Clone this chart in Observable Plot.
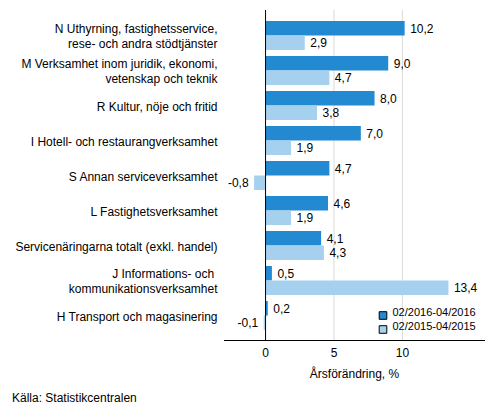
<!DOCTYPE html>
<html>
<head>
<meta charset="utf-8">
<script src="https://cdn.jsdelivr.net/npm/d3@7"></script>
<script src="https://cdn.jsdelivr.net/npm/@observablehq/plot@0.6"></script>
<style>
  body { margin: 0; background: white; font-family: "Liberation Sans", Arial, sans-serif; }
  #source { font-size: 12px; color: #000; margin: 3px 0 0 12px; }
</style>
</head>
<body>
<div id="chart"></div>
<div id="source">Källa: Statistikcentralen</div>
<script>
const categories = [
  'N Uthyrning, fastighetsservice,\nrese- och andra stödtjänster',
  'M Verksamhet inom juridik, ekonomi,\nvetenskap och teknik',
  'R Kultur, nöje och fritid',
  'I Hotell- och restaurangverksamhet',
  'S Annan serviceverksamhet',
  'L Fastighetsverksamhet',
  'Servicenäringarna totalt (exkl. handel)',
  'J Informations- och \nkommunikationsverksamhet',
  'H Transport och magasinering'
]
const series = ['02/2016-04/2016', '02/2015-04/2015']
const values2016 = [10.2, 9.0, 8.0, 7.0, 4.7, 4.6, 4.1, 0.5, 0.2]
const values2015 = [2.9, 4.7, 3.8, 1.9, -0.8, 1.9, 4.3, 13.4, -0.1]
const xTicks = [0, 5, 10]
const colors = ['#238ad2', '#a5d1ef']

const fmt = v => d3.format('.1f')(v).replace('.', ',').replace('−', '-')
const rows2016 = categories.map((c, i) => ({cat: c, serie: series[0], value: values2016[i]}))
const rows2015 = categories.map((c, i) => ({cat: c, serie: series[1], value: values2015[i]}))

// värdeetiketter, positiva till höger och negativa till vänster
const labels = (rows, dy) => [
  Plot.text(rows.filter(d => d.value >= 0), {y: 'cat', x: 'value', text: d => fmt(d.value), dy, dx: 5, textAnchor: 'start'}),
  Plot.text(rows.filter(d => d.value < 0), {y: 'cat', x: 'value', text: d => fmt(d.value), dy, dx: -6, textAnchor: 'end'}),
]

let chart = Plot.plot({
  width: 493,
  height: 388,
  marginLeft: 224,
  marginRight: 9,
  marginTop: 10,
  marginBottom: 48,
  style: {
    fontFamily: '"Liberation Sans", Arial, sans-serif',
    fontSize: '12px',
    color: 'black',
  },
  x: {domain: [-3, 16]},
  y: {
    type: 'band',
    domain: categories,
    range: [18, 333],
    paddingInner: 0.1714,
    paddingOuter: 0.0857,
  },
  color: {domain: series, range: colors},
  marks: [
    Plot.ruleX([5, 10], {stroke: '#d9d9d9'}),
    Plot.barX(rows2016, {y: 'cat', x: 'value', fill: 'serie', insetBottom: 14.5}),
    Plot.barX(rows2015, {y: 'cat', x: 'value', fill: 'serie', insetTop: 14.5}),
    ...labels(rows2016, -7.25),
    ...labels(rows2015, 7.25),
    Plot.ruleX([0], {stroke: 'black'}),
    Plot.frame({anchor: 'bottom', stroke: 'black'}),
    Plot.axisY({tickSize: 0, tickPadding: 7, fontSize: 12, lineHeight: 1.25, label: null}),
    Plot.axisX({ticks: xTicks, tickSize: 0, tickPadding: 8, fontSize: 12, label: null, tickFormat: d => d}),
    Plot.text(['Årsförändring, %'], {frameAnchor: 'bottom', dy: 37, fontSize: 12}),
    // legend
    Plot.dot([series[0]], {frameAnchor: 'bottom-right', dx: -101.5, dy: -25, symbol: 'square', r: 4.3, fill: colors[0], stroke: 'black', strokeWidth: 1}),
    Plot.dot([series[1]], {frameAnchor: 'bottom-right', dx: -101.5, dy: -11, symbol: 'square', r: 4.3, fill: colors[1], stroke: 'black', strokeWidth: 1}),
    Plot.text([series[0]], {frameAnchor: 'bottom-right', dx: -92, dy: -25, textAnchor: 'start', fontSize: 11, text: d => d}),
    Plot.text([series[1]], {frameAnchor: 'bottom-right', dx: -92, dy: -11, textAnchor: 'start', fontSize: 11, text: d => d}),
  ]
})
d3.select('#chart').append(() => chart)
</script>
</body>
</html>
